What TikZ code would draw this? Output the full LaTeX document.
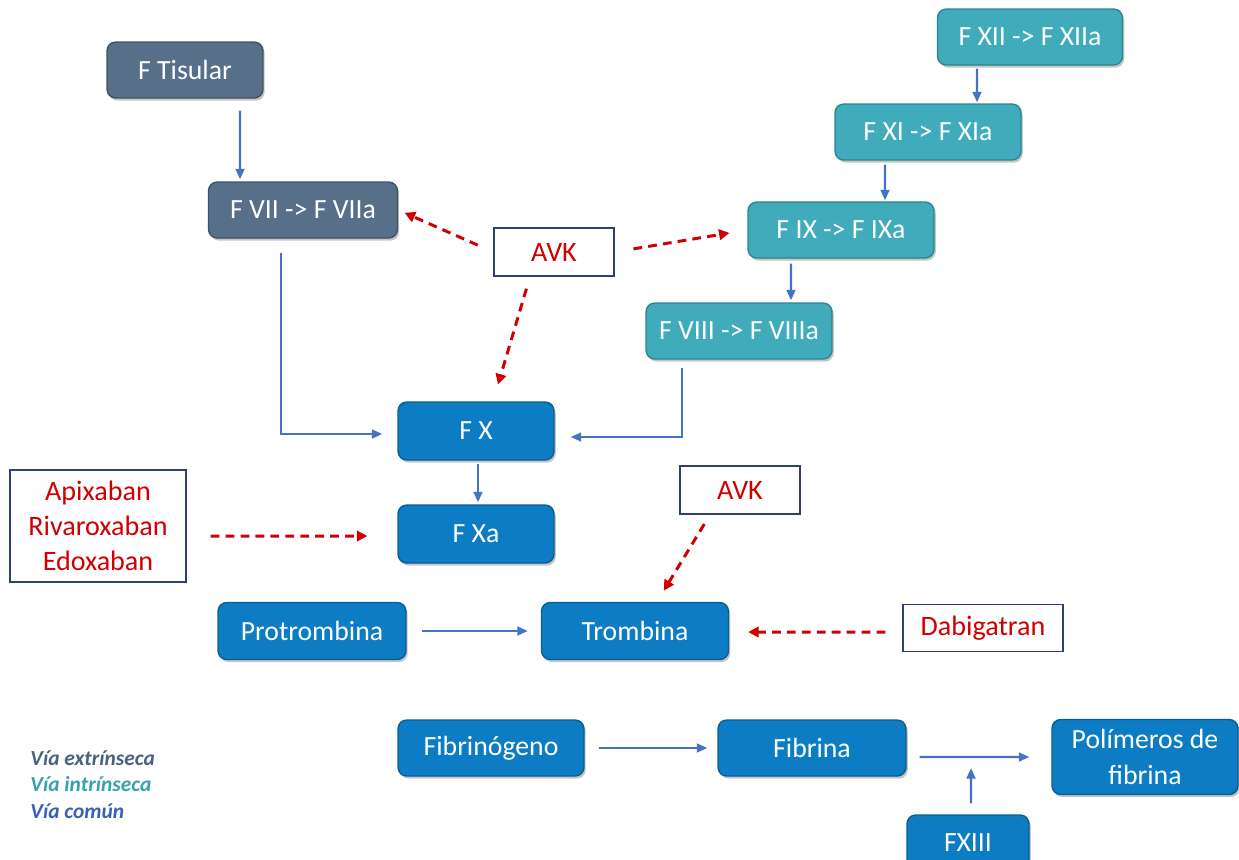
\documentclass[tikz,border=0pt]{standalone}
\usepackage{fontspec}
\setmainfont{Carlito}
\usetikzlibrary{arrows.meta,shadows}
\definecolor{slate}{HTML}{586F8A}
\definecolor{slatedk}{HTML}{3F5166}
\definecolor{teal}{HTML}{40ACBB}
\definecolor{tealdk}{HTML}{2C8490}
\definecolor{cblue}{HTML}{0C7DC4}
\definecolor{cbluedk}{HTML}{0A5C92}
\definecolor{arrblue}{HTML}{4472C4}
\definecolor{dred}{HTML}{D00000}
\definecolor{navy}{HTML}{2F3F6F}
\definecolor{legA}{HTML}{4B6083}
\definecolor{legB}{HTML}{36A2AE}
\definecolor{legC}{HTML}{3A5FB8}
\tikzset{
  fbox/.style={rounded corners=5pt, text=white, inner sep=0pt, align=center,
    font=\fontsize{15.8}{20}\selectfont, line width=0.8pt,
    drop shadow={opacity=0.45, shadow xshift=1pt, shadow yshift=-1.5pt}},
  slatebox/.style={fbox, fill=slate, draw=slatedk},
  tealbox/.style={fbox, fill=teal, draw=tealdk},
  bluebox/.style={fbox, fill=cblue, draw=cbluedk},
  drugbox/.style={draw=navy, line width=0.8pt, fill=white, text=dred, inner sep=0pt,
    align=center, font=\fontsize{16}{19.8}\selectfont},
  blarrow/.style={draw=arrblue, line width=1.3pt, -{Triangle[length=6pt,width=5pt]}},
  rdarrow/.style={draw=dred, line width=1.7pt, dash pattern=on 5pt off 3.5pt,
    -{Triangle[length=6pt,width=6pt]}},
  legtext/.style={anchor=west, inner sep=0pt, font=\fontsize{12.2}{13}\selectfont\bfseries\itshape}
}
\begin{document}
\begin{tikzpicture}[x=0.02cm,y=-0.02cm]
\path[use as bounding box] (0,0) rectangle (1239,859);
% extrinsic
\node[slatebox, minimum width=3.12cm, minimum height=1.12cm] (tis) at (185,70) {F Tisular};
\node[slatebox, minimum width=3.78cm, minimum height=1.12cm] (vii) at (303,210) {F VII -> F VIIa};
% intrinsic
\node[tealbox, minimum width=3.70cm, minimum height=1.12cm] (xii) at (1030,37) {F XII -> F XIIa};
\node[tealbox, minimum width=3.72cm, minimum height=1.12cm] (xi) at (928,132) {F XI -> F XIa};
\node[tealbox, minimum width=3.72cm, minimum height=1.12cm] (ix) at (841,230) {F IX -> F IXa};
\node[tealbox, minimum width=3.72cm, minimum height=1.12cm] (viii) at (739,331) {F VIII -> F VIIIa};
% common
\node[bluebox, minimum width=3.12cm, minimum height=1.16cm] (fx) at (476,431) {F X};
\node[bluebox, minimum width=3.12cm, minimum height=1.16cm] (fxa) at (476,534) {F Xa};
\node[bluebox, minimum width=3.76cm, minimum height=1.14cm] (prot) at (312,631) {Protrombina};
\node[bluebox, minimum width=3.74cm, minimum height=1.14cm] (trom) at (635,631) {Trombina};
\node[bluebox, minimum width=3.72cm, minimum height=1.12cm] (fibg) at (491,748) {Fibrinógeno};
\node[bluebox, minimum width=3.76cm, minimum height=1.12cm] (fib) at (812,748) {Fibrina};
\node[bluebox, minimum width=3.72cm, minimum height=1.50cm] (pol) at (1145,757) {Polímeros de\\fibrina};
\node[bluebox, minimum width=2.44cm, minimum height=1.12cm] (fxiii) at (968,843) {FXIII};
% drugs
\node[drugbox, minimum width=2.40cm, minimum height=0.96cm] (avk1) at (554,252) {AVK};
\node[drugbox, minimum width=2.40cm, minimum height=0.96cm] (avk2) at (740,490) {AVK};
\node[drugbox, minimum width=3.20cm, minimum height=0.94cm] (dab) at (983,628) {Dabigatran};
\node[drugbox, minimum width=3.52cm, minimum height=2.24cm] (apix) at (98,526) {Apixaban\\Rivaroxaban\\Edoxaban};
% legend
\node[legtext, text=legA] (lA) at (30,758) {Vía extrínseca};
\node[legtext, text=legB] (lB) at (30,784) {Vía intrínseca};
\node[legtext, text=legC] (lC) at (30,811) {Vía común};
\coordinate (j) at (971,757);
% blue connectors
\draw[blarrow, shorten <=0.24cm, shorten >=0.04cm] ([xshift=1.1cm]tis.south) -- ([xshift=-1.26cm]vii.north);
\draw[blarrow, shorten <=0.28cm, shorten >=0.3cm] ([xshift=-0.44cm]vii.south) |- ([yshift=-0.06cm]fx.west);
\draw[blarrow, shorten <=0.16cm, shorten >=0.32cm] ([xshift=-1.14cm]viii.south) |- ([yshift=-0.12cm]fx.east);
\draw[blarrow, shorten <=0.06cm, shorten >=0.02cm] ([xshift=-1.06cm]xii.south) -- ([xshift=0.98cm]xi.north);
\draw[blarrow, shorten <=0.08cm, shorten >=0.02cm] ([xshift=-0.86cm]xi.south) -- ([xshift=0.88cm]ix.north);
\draw[blarrow, shorten <=0.1cm, shorten >=0.04cm] ([xshift=-1.0cm]ix.south) -- ([xshift=1.04cm]viii.north);
\draw[blarrow, shorten <=0.06cm, shorten >=0.04cm] ([xshift=0.04cm]fx.south) -- ([xshift=0.04cm]fxa.north);
\draw[blarrow, shorten <=0.3cm, shorten >=0.26cm] (prot.east) -- (trom.west);
\draw[blarrow, shorten <=0.28cm, shorten >=0.2cm] (fibg.east) -- (fib.west);
\draw[blarrow, shorten <=0.26cm, shorten >=0.44cm] ([yshift=-0.18cm]fib.east) -- (pol.west);
\draw[blarrow, shorten <=0.22cm, shorten >=0.22cm] ([xshift=0.06cm]fxiii.north) -- (j);
% red dashed
\draw[rdarrow, shorten <=0.34cm, shorten >=0.14cm] (avk1.west) -- (vii.east);
\draw[rdarrow, shorten <=0.38cm, shorten >=0.36cm] (avk1.east) -- (ix.west);
\draw[rdarrow, shorten <=0.25cm, shorten >=0.35cm] ([xshift=-0.48cm]avk1.south) -- ([xshift=0.34cm]fx.north);
\draw[rdarrow, shorten <=0.48cm, shorten >=0.6cm] ([yshift=-0.2cm]apix.east) -- ([yshift=-0.04cm]fxa.west);
\draw[rdarrow, shorten <=0.22cm, shorten >=0.26cm] ([xshift=-0.6cm]avk2.south) -- ([xshift=0.44cm]trom.north);
\draw[rdarrow, shorten <=0.34cm, shorten >=0.38cm] ([yshift=-0.08cm]dab.west) -- ([yshift=-0.02cm]trom.east);
\end{tikzpicture}
\end{document}
